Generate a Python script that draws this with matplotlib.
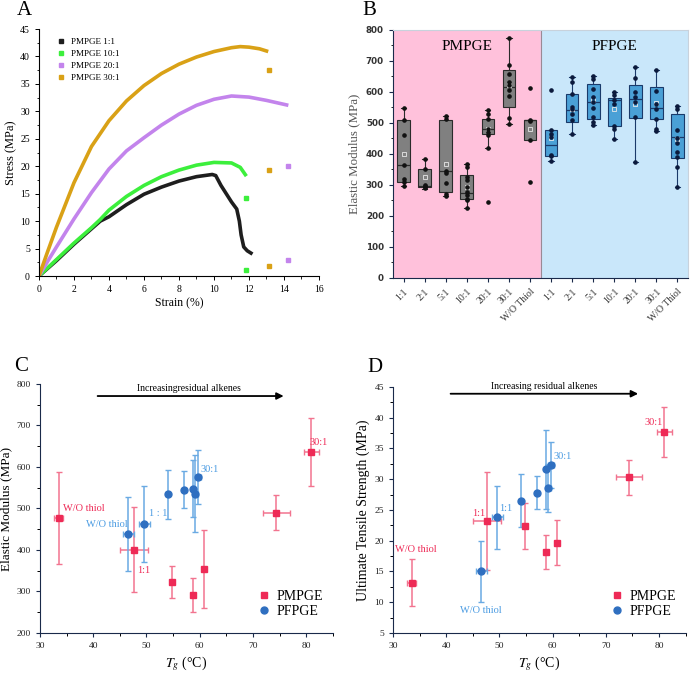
import matplotlib
matplotlib.use('Agg')
import matplotlib.pyplot as plt
from matplotlib.lines import Line2D
from matplotlib.ticker import MultipleLocator

plt.rcParams['font.family'] = ['Liberation Serif', 'DejaVu Serif']
plt.rcParams['mathtext.fontset'] = 'stix'

# ---------- panel A : stress-strain curves ----------
a_labels = ['PMPGE 1:1', 'PMPGE 10:1', 'PMPGE 20:1', 'PMPGE 30:1']
a_colors = ['#1e1e1e', '#3cef3c', '#c384ec', '#d9a116']
strain_11 = [0, 0.5, 1, 2, 3, 3.5, 4, 5, 6, 7, 8, 9, 9.9, 10.1, 10.4, 10.7, 11.0, 11.3, 11.45, 11.55, 11.7, 11.9, 12.1, 12.2]
stress_11 = [0, 1.4, 2.8, 5.8, 8.6, 10.0, 10.8, 13.0, 14.9, 16.2, 17.3, 18.1, 18.5, 18.3, 16.5, 15.0, 13.5, 12.2, 10.0, 7.5, 5.3, 4.6, 4.2, 4.0]
strain_101 = [0, 0.5, 1, 2, 3, 3.5, 4, 5, 6, 7, 8, 9, 10, 11, 11.5, 11.85]
stress_101 = [0, 1.5, 3.0, 6.0, 8.8, 10.3, 12.0, 14.5, 16.5, 18.1, 19.3, 20.2, 20.7, 20.6, 19.8, 18.2]
strain_201 = [0, 0.5, 1, 2, 3, 4, 5, 6, 7, 8, 9, 10, 11, 12, 13, 14.25]
stress_201 = [0, 2.7, 5.3, 10.4, 15.2, 19.5, 22.8, 25.2, 27.5, 29.5, 31.1, 32.2, 32.8, 32.6, 32.0, 31.1]
strain_301 = [0, 0.5, 1, 2, 3, 4, 5, 6, 7, 8, 9, 10, 11, 11.5, 12, 12.6, 13.1]
stress_301 = [0, 4.5, 8.9, 17.0, 23.6, 28.3, 31.9, 34.7, 36.9, 38.6, 39.9, 40.9, 41.6, 41.8, 41.7, 41.4, 40.9]
# isolated points after failure
tail_x = [[], [11.85, 11.85], [14.25, 14.25], [13.15, 13.15, 13.15]]
tail_y = [[], [14.3, 1.1], [20.0, 3.0], [37.5, 19.3, 1.9]]

# ---------- panel B : elastic modulus box plots ----------
b_cats = ['1:1', '2:1', '5:1', '10:1', '20:1', '30:1', 'W/O Thiol']
m_q1 = [310, 294, 277, 256, 466, 552, 446]
m_med = [363, 297, 345, 275, 482, 616, 509]
m_q3 = [509, 353, 511, 331, 512, 670, 511]
m_lo = [297, 288, 265, 227, 420, 496, 446]
m_hi = [548, 385, 523, 369, 541, 775, 511]
m_mean = [400, 326, 367, 294, 480, 621, 480]
m_pts = [[548, 509, 461, 363, 319, 310, 297],
         [385, 353, 299, 294, 290, 296],
         [523, 514, 345, 340, 308, 272, 265],
         [369, 358, 326, 315, 294, 277, 267, 256, 250, 227],
         [541, 530, 512, 482, 471, 460, 420, 245],
         [775, 686, 659, 632, 622, 605, 586, 517, 496],
         [614, 511, 506, 446, 310]]
f_q1 = [392, 503, 514, 489, 517, 514, 387]
f_med = [428, 543, 568, 573, 576, 549, 455]
f_q3 = [476, 592, 627, 582, 622, 616, 528]
f_lo = [377, 463, 492, 449, 374, 473, 294]
f_hi = [476, 648, 651, 600, 681, 670, 554]
f_mean = [453, 546, 573, 544, 562, 565, 449]
f_pts = [[607, 478, 466, 455, 396, 392, 377],
         [648, 632, 592, 551, 546, 530, 509, 463],
         [651, 643, 609, 584, 568, 549, 520, 503, 492],
         [600, 589, 573, 562, 489, 482, 449],
         [681, 645, 599, 584, 568, 519, 374],
         [670, 604, 562, 546, 514, 482, 473],
         [554, 546, 476, 453, 435, 406, 390, 358, 294]]

# ---------- panels C & D : vs Tg ----------
m_tg = [33.5, 47.7, 54.8, 58.8, 60.8, 74.4, 81.0]
m_tg_err = [0.8, 2.6, 0.3, 0.3, 0.3, 2.5, 1.4]
f_tg = [46.6, 49.6, 54.0, 57.1, 58.8, 59.2, 59.7]
f_tg_err = [1.0, 1.0, 0.3, 0.3, 0.3, 0.5, 0.5]
m_mod = [477, 401, 323, 292, 354, 490, 635]
m_mod_err = [111, 103, 38, 41, 93, 43, 82]
f_mod = [439, 463, 534, 545, 548, 536, 575]
f_mod_err = [89, 91, 59, 45, 69, 93, 65]
m_uts = [13.2, 23.2, 22.4, 18.2, 19.7, 30.3, 37.7]
m_uts_err = [3.8, 7.9, 3.7, 2.8, 3.6, 2.9, 4.1]
f_uts = [15.0, 23.8, 26.5, 27.8, 31.6, 28.6, 32.3]
f_uts_err = [5.0, 5.1, 4.3, 2.7, 6.4, 3.9, 3.8]

red = '#ee2a56'
red_err = '#f2748f'
blue = '#2f6fc0'
blue_err = '#6aaae3'

fig = plt.figure(figsize=(6.9, 6.77), dpi=100)

# ======== A ========
axA = fig.add_axes([0.0565, 0.5923, 0.4058, 0.3648])
curves = [(strain_11, stress_11), (strain_101, stress_101), (strain_201, stress_201), (strain_301, stress_301)]
for (sx, sy), col, tx, ty in zip(curves, a_colors, tail_x, tail_y):
    axA.plot(sx, sy, color=col, lw=2.6, solid_capstyle='butt')
    axA.plot(tx, ty, 's', color=col, ms=2.5)
handles = [Line2D([], [], marker='s', ls='', color=c, ms=2.5) for c in a_colors]
axA.legend(handles, a_labels, loc='upper left', bbox_to_anchor=(0.03, 1.0), frameon=False,
           fontsize=6.6, handletextpad=0.5, labelspacing=0.4, handlelength=1.2)
axA.set_xlim(0, 16)
axA.set_ylim(0, 45)
axA.xaxis.set_major_locator(MultipleLocator(2))
axA.xaxis.set_minor_locator(MultipleLocator(1))
axA.yaxis.set_major_locator(MultipleLocator(5))
axA.yaxis.set_minor_locator(MultipleLocator(2.5))
axA.tick_params(labelsize=7, length=3, width=0.7)
axA.tick_params(which='minor', length=1.8, width=0.6)
axA.spines['top'].set_visible(False)
axA.spines['right'].set_visible(False)
axA.set_xlabel('Strain (%)', fontsize=8.5, labelpad=2)
axA.set_ylabel('Stress (MPa)', fontsize=9, labelpad=2)

# ======== B ========
axB = fig.add_axes([0.5696, 0.5894, 0.4275, 0.3663])
axB.axvspan(-0.5, 6.5, color='#ffc1db', zorder=0)
axB.axvspan(6.5, 13.5, color='#c9e7fa', zorder=0)
axB.axvline(6.5, color='#9a8a95', lw=0.8, zorder=1)


def make_stats(q1, med, q3, lo, hi, mean):
    return [dict(q1=a, med=b, q3=c, whislo=d, whishi=e, mean=f, fliers=[])
            for a, b, c, d, e, f in zip(q1, med, q3, lo, hi, mean)]


groups = [(make_stats(m_q1, m_med, m_q3, m_lo, m_hi, m_mean), m_pts, range(0, 7), '#808080', '#2b2b2b', '#111111'),
          (make_stats(f_q1, f_med, f_q3, f_lo, f_hi, f_mean), f_pts, range(7, 14), '#4aa0d6', '#1a3a6a', '#0b1a3c')]
for stats, pts, pos, fc, ec, pc in groups:
    axB.bxp(stats, positions=list(pos), widths=0.6, capwidths=0.25, patch_artist=True, showmeans=True,
            boxprops=dict(facecolor=fc, edgecolor=ec, lw=0.8),
            medianprops=dict(color=ec, lw=0.9),
            whiskerprops=dict(color=ec, lw=0.8),
            capprops=dict(color=ec, lw=0.8),
            meanprops=dict(marker='s', markerfacecolor='none', markeredgecolor='#e8e8e8', markersize=2.5,
                           markeredgewidth=0.6))
    for p, vals in zip(pos, pts):
        axB.plot([p] * len(vals), vals, 'o', color=pc, ms=2.3, zorder=5)

axB.text(3, 748, 'PMPGE', ha='center', va='center', fontsize=11)
axB.text(10, 748, 'PFPGE', ha='center', va='center', fontsize=11)
axB.set_xlim(-0.5, 13.5)
axB.set_ylim(0, 800)
axB.set_xticks(range(14))
axB.set_xticklabels(b_cats + b_cats, rotation=45, ha='right', rotation_mode='anchor', fontsize=7)
axB.yaxis.set_major_locator(MultipleLocator(100))
axB.yaxis.set_minor_locator(MultipleLocator(50))
for lab in axB.get_yticklabels():
    lab.set_family('DejaVu Sans')
    lab.set_fontweight('bold')
    lab.set_fontsize(6.3)
    lab.set_color('#333333')
axB.tick_params(length=3, width=0.8, colors='#1a2a4a', labelcolor='#333333')
axB.tick_params(which='minor', length=1.8, width=0.6)
axB.spines['left'].set_color('#1a2a4a')
axB.spines['bottom'].set_color('#1a2a4a')
axB.spines['top'].set_color('#c8d2dc')
axB.spines['right'].set_color('#c8d2dc')
axB.set_ylabel('Elastic Modulus (MPa)', fontsize=9.3, color='#555555', labelpad=4)


# ======== C & D ========
def tg_panel(ax, my, my_err, fy, fy_err):
    ax.errorbar(m_tg, my, yerr=my_err, xerr=m_tg_err, fmt='none', ecolor=red_err, elinewidth=1.1,
                capsize=2, capthick=1.0, zorder=2)
    ax.errorbar(f_tg, fy, yerr=fy_err, xerr=f_tg_err, fmt='none', ecolor=blue_err, elinewidth=1.1,
                capsize=2, capthick=1.0, zorder=2)
    ax.plot(m_tg, my, 's', color=red, ms=5, ls='', label='PMPGE', zorder=3)
    ax.plot(f_tg, fy, 'o', color=blue, ms=5, ls='', label='PFPGE', zorder=3)
    ax.set_xlim(30, 85)
    ax.xaxis.set_major_locator(MultipleLocator(10))
    ax.xaxis.set_minor_locator(MultipleLocator(5))
    ax.spines['top'].set_visible(False)
    ax.spines['right'].set_visible(False)
    ax.tick_params(labelsize=6.8, length=3, width=0.8, colors='#1a2a4a', labelcolor='#222222')
    ax.tick_params(which='minor', length=2, width=0.7)
    ax.spines['left'].set_color('#1a2a4a')
    ax.spines['bottom'].set_color('#1a2a4a')
    ax.set_xlabel(r'$T_g$ (°C)', fontsize=10, labelpad=3)
    ax.legend(loc='lower right', bbox_to_anchor=(1.0, 0.02), frameon=False, fontsize=10,
              handletextpad=0.3, labelspacing=0.2, handlelength=1.2, borderpad=0.2)


axC = fig.add_axes([0.058, 0.065, 0.4242, 0.3678])
tg_panel(axC, m_mod, m_mod_err, f_mod, f_mod_err)
axC.set_ylim(200, 800)
axC.yaxis.set_major_locator(MultipleLocator(100))
axC.yaxis.set_minor_locator(MultipleLocator(50))
axC.set_ylabel('Elastic Modulus (MPa)', fontsize=9.5, labelpad=3)
axC.annotate('', xy=(76.3, 771), xytext=(40.3, 771),
             arrowprops=dict(arrowstyle='-|>', color='black', lw=1.3, mutation_scale=10))
axC.text(58, 790, 'Increasingresidual alkenes', ha='center', va='center', fontsize=7)
axC.text(34.3, 500, 'W/O thiol', color=red, fontsize=7.5, va='center')
axC.text(38.6, 461, 'W/O thiol', color='#4a9be2', fontsize=7.5, va='center')
axC.text(50.4, 488, '1 : 1', color='#4a9be2', fontsize=7.5, va='center')
axC.text(48.2, 351, '1:1', color=red, fontsize=7.5, va='center')
axC.text(60.2, 593, '30:1', color='#4a9be2', fontsize=7.5, va='center')
axC.text(80.7, 658, '30:1', color=red, fontsize=7.5, va='center')

axD = fig.add_axes([0.5696, 0.065, 0.424, 0.3634])
tg_panel(axD, m_uts, m_uts_err, f_uts, f_uts_err)
axD.set_ylim(5, 45)
axD.yaxis.set_major_locator(MultipleLocator(5))
axD.yaxis.set_minor_locator(MultipleLocator(2.5))
axD.set_ylabel('Ultimate Tensile Strength (MPa)', fontsize=10, labelpad=3)
axD.annotate('', xy=(76.6, 43.9), xytext=(40.3, 43.9),
             arrowprops=dict(arrowstyle='-|>', color='black', lw=1.3, mutation_scale=10))
axD.text(58.5, 45.1, 'Increasing residual alkenes', ha='center', va='center', fontsize=7)
axD.text(30.4, 18.6, 'W/O thiol', color=red, fontsize=7.5, va='center')
axD.text(42.5, 8.7, 'W/O thiol', color='#4a9be2', fontsize=7.5, va='center')
axD.text(44.9, 24.4, '1:1', color=red, fontsize=7.5, va='center')
axD.text(49.9, 25.2, '1:1', color='#4a9be2', fontsize=7.5, va='center')
axD.text(60.1, 33.7, '30:1', color='#4a9be2', fontsize=7.5, va='center')
axD.text(77.3, 39.2, '30:1', color=red, fontsize=7.5, va='center')

# panel letters
fig.text(0.025, 0.984, 'A', fontsize=15, va='center')
fig.text(0.525, 0.984, 'B', fontsize=15, va='center')
fig.text(0.021, 0.459, 'C', fontsize=15, va='center')
fig.text(0.532, 0.457, 'D', fontsize=15, va='center')

fig.savefig('out.png', dpi=100)
